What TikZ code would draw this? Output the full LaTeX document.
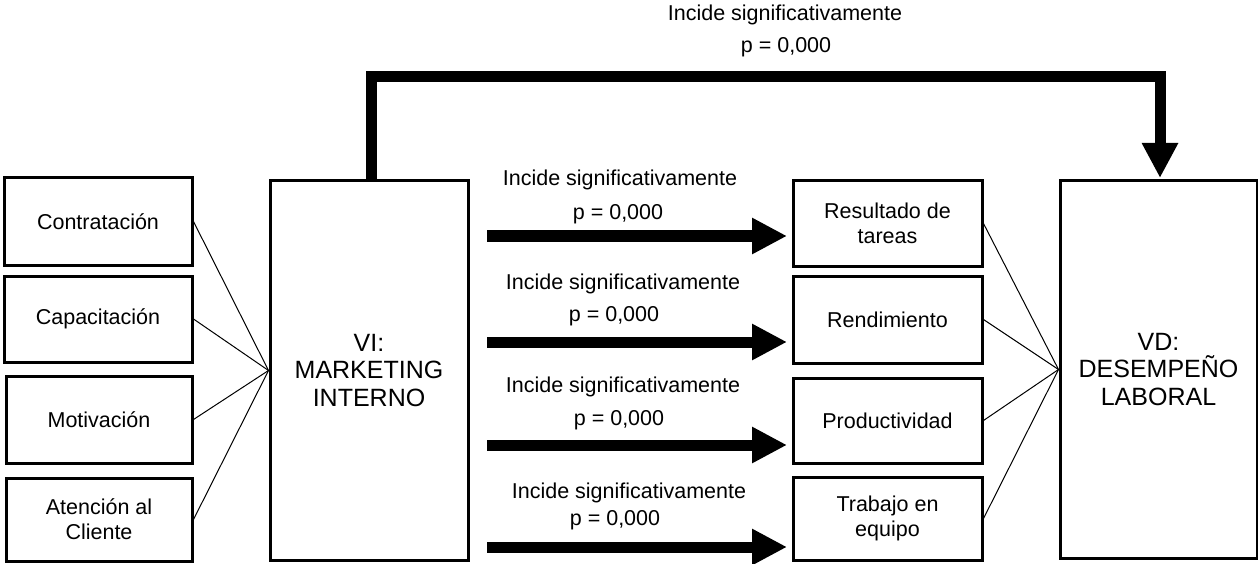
\documentclass[tikz,border=0pt]{standalone}
\usepackage{fontspec}
\setmainfont{Liberation Sans}
\usetikzlibrary{arrows.meta}
\begin{document}
\begin{tikzpicture}[x=1pt,y=-1pt,
  box/.style={draw, line width=3pt, rectangle, inner sep=0pt, align=center, font=\fontsize{21.5}{25}\selectfont},
  bigbox/.style={draw, line width=3pt, rectangle, inner sep=0pt, align=center, font=\fontsize{25}{27.5}\selectfont},
  lbl/.style={inner sep=0pt, font=\fontsize{21.5}{25}\selectfont},
  thin/.style={line width=1pt},
  fat/.style={line width=11pt, line join=miter, -{Triangle[length=35pt,width=34pt]}}]
\useasboundingbox (0,0) rectangle (1258,564);
\fill[white] (0,0) rectangle (1258,564);
% top arrow
\coordinate (vs) at (371,181);
\coordinate (tc) at (1160,77);
\coordinate (ve) at (1160,178);
\draw[fat] (vs) |- (tc) -- (ve);
% left boxes
\node[box, minimum width=188pt, minimum height=87pt] (contr) at (98,221.5) {Contratación};
\node[box, minimum width=188pt, minimum height=86pt] (capac) at (98,319) {Capacitación};
\node[box, minimum width=186pt, minimum height=87pt] (motiv) at (99,419.5) {Motivación};
\node[box, minimum width=186pt, minimum height=83pt] (atenc) at (99,519.5) {Atención al\\Cliente};
% VI / VD
\node[bigbox, minimum width=198pt, minimum height=379pt] (vi) at (369,370.5) {VI:\\MARKETING\\INTERNO};
\node[bigbox, minimum width=197pt, minimum height=377pt] (vd) at (1158.5,369.5) {VD:\\DESEMPEÑO\\LABORAL};
% middle boxes
\node[box, minimum width=189pt, minimum height=85pt] (res) at (887.5,223.5) {Resultado de\\tareas};
\node[box, minimum width=189pt, minimum height=87pt] (rend) at (887.5,319.5) {Rendimiento};
\node[box, minimum width=189pt, minimum height=85pt] (prod) at (887.5,420.5) {Productividad};
\node[box, minimum width=189pt, minimum height=83pt] (trab) at (887.5,518.5) {Trabajo en\\equipo};
% thin connectors
\foreach \n in {contr,capac,motiv,atenc} \draw[thin] (\n.east) -- (vi.west);
\foreach \n in {res,rend,prod,trab} \draw[thin] (\n.east) -- (vd.west);
% middle arrows
\coordinate (a1s) at (487,236); \coordinate (a1e) at (787,236);
\coordinate (a2s) at (487,342); \coordinate (a2e) at (787,342);
\coordinate (a3s) at (487,445); \coordinate (a3e) at (787,445);
\coordinate (a4s) at (487,547); \coordinate (a4e) at (787,547);
\draw[fat] (a1s) -- (a1e);
\draw[fat] (a2s) -- (a2e);
\draw[fat] (a3s) -- (a3e);
\draw[fat] (a4s) -- (a4e);
% labels
\node[lbl] (t0) at (785,15) {Incide significativamente};
\node[lbl] (p0) at (786,47) {p = 0,000};
\node[lbl] (t1) at (620,180) {Incide significativamente};
\node[lbl] (p1) at (618,214) {p = 0,000};
\node[lbl] (t2) at (623,284) {Incide significativamente};
\node[lbl] (p2) at (614,316) {p = 0,000};
\node[lbl] (t3) at (623,387) {Incide significativamente};
\node[lbl] (p3) at (619,420) {p = 0,000};
\node[lbl] (t4) at (629,493) {Incide significativamente};
\node[lbl] (p4) at (615,520) {p = 0,000};
\end{tikzpicture}
\end{document}
